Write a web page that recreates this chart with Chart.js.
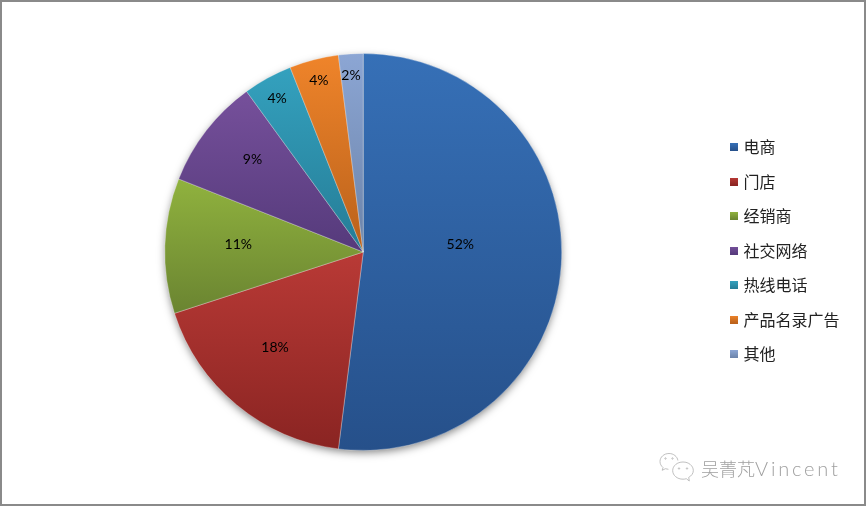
<!DOCTYPE html>
<html>
<head>
<meta charset="utf-8">
<script src="https://cdn.jsdelivr.net/npm/chart.js@4/dist/chart.umd.min.js"></script>
<style>
html, body { margin: 0; padding: 0; background: #fff; }
#wrap { position: relative; width: 866px; height: 506px; overflow: hidden; }
#wrap canvas { position: absolute; left: 0; top: 0; }
#frame { position: absolute; inset: 0; border: 2px solid #8a8a8a; box-sizing: border-box; pointer-events: none; }
#mark { position: absolute; left: 701px; top: 455px; font: 300 18px "Noto Sans CJK SC", sans-serif; color: #a0a0a0; white-space: nowrap; line-height: 26px; }
#mark span { font-family: Lato, sans-serif; font-size: 20px; letter-spacing: 2.8px; }
#icon { position: absolute; left: 659px; top: 452px; }
</style>
</head>
<body>
<div id="wrap">
  <canvas id="chart" width="866" height="506"></canvas>
  <svg id="icon" width="36" height="32" viewBox="0 0 36 32" fill="none" stroke="#b0b0b0" stroke-width="0.8">
    <path d="M10 1.500C5 1.500 1 5 1 9.500c0 2.400 1.200 4.500 3 6l-.8 2.800 3.200-1.600c1 .3 2 .5 3 .6"/>
    <path d="M10 1.500c4.600 0 8.300 3 8.900 7"/>
    <path d="M24 10c-5.800 0-10.300 3.800-10.300 8.600s4.500 8.600 10.300 8.600c1.200 0 2.300-.2 3.300-.5l3 2.300-.6-3.600c2.800-1.600 4.600-4 4.600-6.800C34.300 13.800 29.800 10 24 10z"/>
    <circle cx="6.500" cy="6.500" r=".7"/><circle cx="13.500" cy="6.500" r=".7"/>
    <circle cx="20" cy="16.500" r=".7"/><circle cx="28" cy="16.500" r=".7"/>
  </svg>
  <div id="mark">吴菁芃<span>Vincent</span></div>
  <div id="frame"></div>
</div>
<script>
const categories = ['电商', '门店', '经销商', '社交网络', '热线电话', '产品名录广告', '其他'];
const shares = [52, 18, 11, 9, 4, 4, 2];
const topColors = ['#3670b7', '#b93a36', '#90b23e', '#76509b', '#34a1be', '#ef842a', '#8ca6d4'];
const bottomColors = ['#26508a', '#8a2422', '#6a8431', '#553a7b', '#257c96', '#b9611b', '#6b83a9'];

// label placement: share of the radius, then a small pixel nudge
const labelPull = [0.49, 0.65, 0.63, 0.70, 0.89, 0.90, 0.90];
const labelNudgeX = [0, -6, 0, -1, -1, 0, -1];
const labelNudgeY = [-14, -4, -4, -7, 1, 2, 2];

// vertical gradient over the height of one slice
function sliceGradient(chart, i) {
    const meta = chart.getDatasetMeta(0);
    const arc = meta.data[i];
    if (!arc || !arc.outerRadius) return topColors[i];
    const { x, y, startAngle, endAngle, outerRadius } = arc.getProps(['x', 'y', 'startAngle', 'endAngle', 'outerRadius'], true);
    let top = y, bottom = y;
    const steps = 40;
    for (let s = 0; s <= steps; s++) {
        const a = startAngle + (endAngle - startAngle) * s / steps;
        const py = y + Math.sin(a) * outerRadius;
        top = Math.min(top, py);
        bottom = Math.max(bottom, py);
    }
    const g = chart.ctx.createLinearGradient(0, top, 0, bottom);
    g.addColorStop(0, topColors[i]);
    g.addColorStop(1, bottomColors[i]);
    return g;
}

// legend swatch as a small canvas, so it can carry the slice gradient
function makeSwatch(i) {
    const c = document.createElement('canvas');
    c.width = 8;
    c.height = 8;
    const x = c.getContext('2d');
    const g = x.createLinearGradient(0, 0, 0, 8);
    g.addColorStop(0, topColors[i]);
    g.addColorStop(1, bottomColors[i]);
    x.fillStyle = g;
    x.fillRect(0, 0, 8, 8);
    return c;
}

const pieDecor = {
    id: 'pieDecor',
    afterLayout(chart) {
        // the legend sits a little above the pie's centre line
        chart.legend.top -= 1.5;
        chart.legend.bottom -= 1.5;
    },
    beforeDatasetsDraw(chart) {
        const meta = chart.getDatasetMeta(0);
        meta.data.forEach((arc, i) => {
            arc.options.backgroundColor = sliceGradient(chart, i);
        });
        // soft shadow under the whole pie
        const arc = meta.data[0];
        const ctx = chart.ctx;
        ctx.save();
        ctx.shadowColor = 'rgba(0,0,0,0.5)';
        ctx.shadowBlur = 8;
        ctx.shadowOffsetY = 3;
        ctx.fillStyle = '#777';
        ctx.beginPath();
        ctx.arc(arc.x, arc.y, arc.outerRadius - 1, 0, Math.PI * 2);
        ctx.fill();
        ctx.restore();
    },
    afterDatasetsDraw(chart) {
        const ctx = chart.ctx;
        ctx.save();
        ctx.font = '14px Lato, sans-serif';
        ctx.fillStyle = '#000';
        ctx.textAlign = 'center';
        ctx.textBaseline = 'middle';
        chart.getDatasetMeta(0).data.forEach((arc, i) => {
            const mid = (arc.startAngle + arc.endAngle) / 2;
            const r = arc.outerRadius * labelPull[i];
            ctx.fillText(shares[i] + '%', arc.x + Math.cos(mid) * r + labelNudgeX[i], arc.y + Math.sin(mid) * r + labelNudgeY[i]);
        });
        ctx.restore();
    }
};

const defaultLabels = Chart.overrides.doughnut.plugins.legend.labels.generateLabels;

new Chart(document.getElementById('chart').getContext('2d'), {
    type: 'pie',
    data: {
        labels: categories,
        datasets: [{
            data: shares,
            backgroundColor: topColors,
            borderColor: 'rgba(255,255,255,0.3)',
            borderWidth: 1,
            hoverOffset: 0
        }]
    },
    options: {
        responsive: false,
        animation: false,
        layout: { padding: { left: 11.5, right: 16.5, top: 53, bottom: 55 } },
        plugins: {
            tooltip: { enabled: false },
            legend: {
                position: 'right',
                labels: {
                    usePointStyle: true,
                    pointStyleWidth: 2,
                    boxHeight: 8,
                    padding: 18.5,
                    color: '#222',
                    font: { family: '"Noto Sans CJK SC", sans-serif', size: 16 },
                    generateLabels(chart) {
                        return defaultLabels(chart).map((item, i) => {
                            item.pointStyle = makeSwatch(i);
                            return item;
                        });
                    }
                }
            }
        }
    },
    plugins: [pieDecor]
});
</script>
</body>
</html>
